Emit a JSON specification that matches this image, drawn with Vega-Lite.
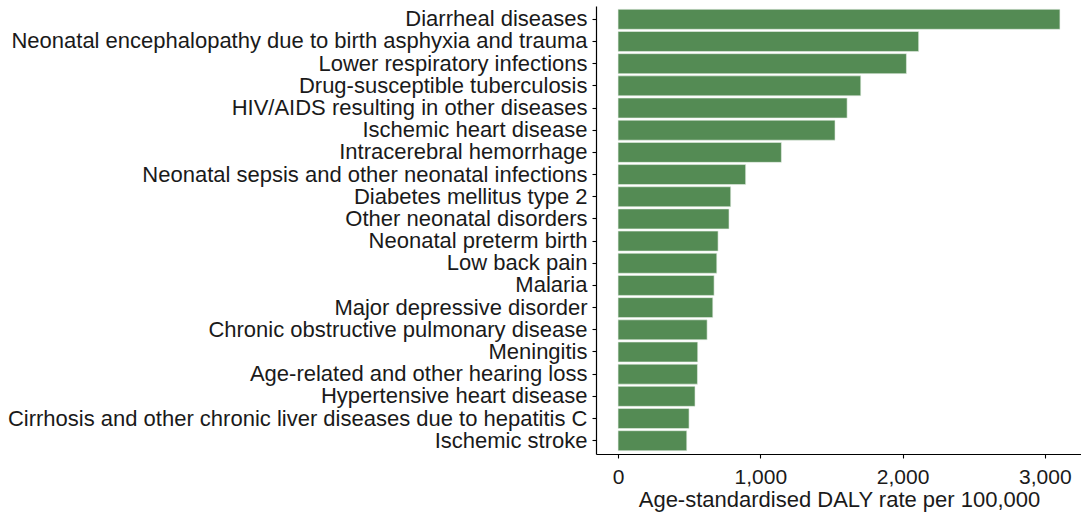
{
  "$schema": "https://vega.github.io/schema/vega-lite/v6.json",
  "width": 486,
  "height": 448,
  "autosize": {"type": "none"},
  "padding": {"left": 596, "top": 6, "right": 0, "bottom": 60},
  "background": "white",
  "config": {
    "view": {"stroke": null},
    "font": "Liberation Sans"
  },
  "data": {
    "values": [
      {"cause": "Diarrheal diseases", "rate": 3106},
      {"cause": "Neonatal encephalopathy due to birth asphyxia and trauma", "rate": 2113},
      {"cause": "Lower respiratory infections", "rate": 2027},
      {"cause": "Drug-susceptible tuberculosis", "rate": 1706},
      {"cause": "HIV/AIDS resulting in other diseases", "rate": 1610},
      {"cause": "Ischemic heart disease", "rate": 1525},
      {"cause": "Intracerebral hemorrhage", "rate": 1148},
      {"cause": "Neonatal sepsis and other neonatal infections", "rate": 897},
      {"cause": "Diabetes mellitus type 2", "rate": 792},
      {"cause": "Other neonatal disorders", "rate": 780},
      {"cause": "Neonatal preterm birth", "rate": 703},
      {"cause": "Low back pain", "rate": 694},
      {"cause": "Malaria", "rate": 675},
      {"cause": "Major depressive disorder", "rate": 666},
      {"cause": "Chronic obstructive pulmonary disease", "rate": 626},
      {"cause": "Meningitis", "rate": 560},
      {"cause": "Age-related and other hearing loss", "rate": 558},
      {"cause": "Hypertensive heart disease", "rate": 541},
      {"cause": "Cirrhosis and other chronic liver diseases due to hepatitis C", "rate": 499},
      {"cause": "Ischemic stroke", "rate": 483}
    ]
  },
  "mark": {"type": "bar", "color": "#548B54", "stroke": "#e6efe6", "strokeWidth": 0.6},
  "encoding": {
    "y": {
      "field": "cause",
      "type": "nominal",
      "sort": "-x",
      "scale": {"paddingInner": 0.1, "paddingOuter": 0.15},
      "axis": {
        "title": null,
        "domainColor": "#000000",
        "domainWidth": 1.2,
        "tickColor": "#000000",
        "tickWidth": 1.1,
        "tickSize": 4,
        "labelPadding": 5,
        "labelFontSize": 22,
        "labelColor": "#1a1a1a",
        "labelLimit": 0
      }
    },
    "x": {
      "field": "rate",
      "type": "quantitative",
      "scale": {"domain": [-155, 3261], "nice": false, "zero": false},
      "axis": {
        "title": "Age-standardised DALY rate per 100,000",
        "values": [0, 1000, 2000, 3000],
        "format": ",.0f",
        "grid": false,
        "domainColor": "#000000",
        "domainWidth": 1.2,
        "tickColor": "#000000",
        "tickWidth": 1.1,
        "tickSize": 4,
        "labelPadding": 8,
        "labelFontSize": 21,
        "labelColor": "#1a1a1a",
        "labelFlush": false,
        "titleFontSize": 22,
        "titleFontWeight": "normal",
        "titleColor": "#1a1a1a",
        "titlePadding": 2
      }
    }
  }
}
